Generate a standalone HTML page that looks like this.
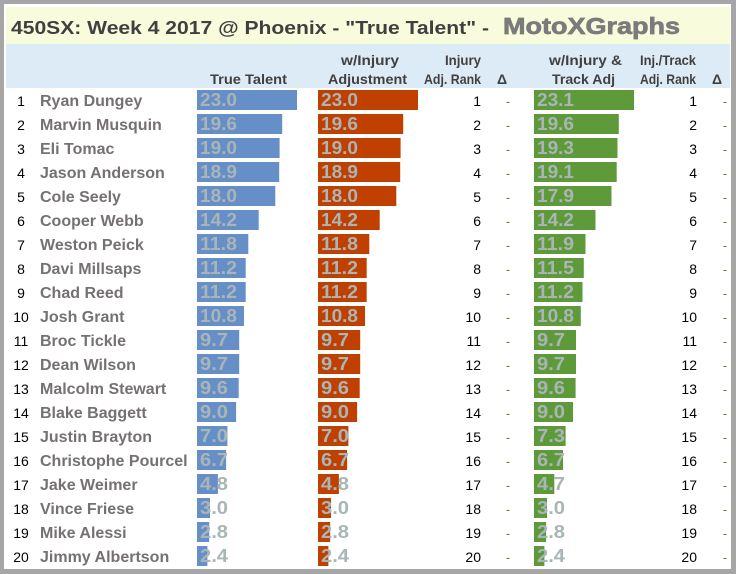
<!DOCTYPE html>
<html><head><meta charset="utf-8"><style>
html,body{margin:0;padding:0;background:#a6a6a6;}
svg{display:block;}
.t{font-family:"Liberation Sans",sans-serif;font-weight:bold;fill:#404040;font-size:18px;}
.mx{font-family:"Liberation Sans",sans-serif;font-weight:bold;fill:#7b7b7b;stroke:#7b7b7b;stroke-width:0.7;font-size:23px;}
.h{font-family:"Liberation Sans",sans-serif;font-weight:bold;fill:#404040;font-size:14px;}
.r{font-family:"Liberation Sans",sans-serif;fill:#000;font-size:14px;text-anchor:middle;}
.rr{font-family:"Liberation Sans",sans-serif;fill:#000;font-size:14px;text-anchor:end;}
.d{font-family:"Liberation Sans",sans-serif;fill:#4f8a2e;font-size:13px;text-anchor:middle;}
.n{font-family:"Liberation Sans",sans-serif;font-weight:bold;fill:#767171;font-size:16px;}
.v{font-family:"Liberation Sans",sans-serif;font-weight:bold;fill:#a9b5b7;font-size:18px;}
.b{fill:#668fc8;} .o{fill:#c04000;} .g{fill:#5f9a3a;}
</style></head><body>
<svg width="736" height="574" viewBox="0 0 736 574" xmlns="http://www.w3.org/2000/svg">
<rect x="0" y="0" width="736" height="574" fill="#a6a6a6"/>
<rect x="4" y="4" width="727" height="565" fill="#ffffff"/>
<rect x="6" y="7" width="724" height="37" fill="#f8fcdc"/>
<rect x="6" y="44" width="724" height="44" fill="#ddebf7"/>

<text class="t" x="11" y="34" textLength="478" lengthAdjust="spacingAndGlyphs">450SX: Week 4 2017 @ Phoenix - "True Talent" -</text>
<text class="mx" x="503" y="34" textLength="177" lengthAdjust="spacingAndGlyphs">MotoXGraphs</text>

<text class="h" x="210" y="84" textLength="77" lengthAdjust="spacingAndGlyphs">True Talent</text>
<text class="h" x="341" y="65" textLength="58" lengthAdjust="spacingAndGlyphs">w/Injury</text>
<text class="h" x="328" y="84" textLength="79" lengthAdjust="spacingAndGlyphs">Adjustment</text>
<text class="h" x="445" y="65" textLength="36" lengthAdjust="spacingAndGlyphs">Injury</text>
<text class="h" x="424" y="84" textLength="57" lengthAdjust="spacingAndGlyphs">Adj. Rank</text>
<text class="h" x="497" y="84">Δ</text>
<text class="h" x="549" y="65" textLength="73" lengthAdjust="spacingAndGlyphs">w/Injury &amp;</text>
<text class="h" x="552" y="84" textLength="63" lengthAdjust="spacingAndGlyphs">Track Adj</text>
<text class="h" x="640" y="65" textLength="56" lengthAdjust="spacingAndGlyphs">Inj./Track</text>
<text class="h" x="640" y="84" textLength="56" lengthAdjust="spacingAndGlyphs">Adj. Rank</text>
<text class="h" x="712" y="84">Δ</text>

<!-- bars -->
<rect class="b" x="197" y="90" width="100" height="20"/><rect class="o" x="318" y="90" width="100" height="20"/><rect class="g" x="534" y="90" width="100" height="20"/>
<rect class="b" x="197" y="114" width="85.2" height="20"/><rect class="o" x="318" y="114" width="85.2" height="20"/><rect class="g" x="534" y="114" width="84.8" height="20"/>
<rect class="b" x="197" y="138" width="82.6" height="20"/><rect class="o" x="318" y="138" width="82.6" height="20"/><rect class="g" x="534" y="138" width="83.5" height="20"/>
<rect class="b" x="197" y="162" width="82.2" height="20"/><rect class="o" x="318" y="162" width="82.2" height="20"/><rect class="g" x="534" y="162" width="82.7" height="20"/>
<rect class="b" x="197" y="186" width="78.3" height="20"/><rect class="o" x="318" y="186" width="78.3" height="20"/><rect class="g" x="534" y="186" width="77.5" height="20"/>
<rect class="b" x="197" y="210" width="61.7" height="20"/><rect class="o" x="318" y="210" width="61.7" height="20"/><rect class="g" x="534" y="210" width="61.5" height="20"/>
<rect class="b" x="197" y="234" width="51.3" height="20"/><rect class="o" x="318" y="234" width="51.3" height="20"/><rect class="g" x="534" y="234" width="51.5" height="20"/>
<rect class="b" x="197" y="258" width="48.7" height="20"/><rect class="o" x="318" y="258" width="48.7" height="20"/><rect class="g" x="534" y="258" width="49.8" height="20"/>
<rect class="b" x="197" y="282" width="48.7" height="20"/><rect class="o" x="318" y="282" width="48.7" height="20"/><rect class="g" x="534" y="282" width="48.5" height="20"/>
<rect class="b" x="197" y="306" width="47.0" height="20"/><rect class="o" x="318" y="306" width="47.0" height="20"/><rect class="g" x="534" y="306" width="46.8" height="20"/>
<rect class="b" x="197" y="330" width="42.2" height="20"/><rect class="o" x="318" y="330" width="42.2" height="20"/><rect class="g" x="534" y="330" width="42.0" height="20"/>
<rect class="b" x="197" y="354" width="42.2" height="20"/><rect class="o" x="318" y="354" width="42.2" height="20"/><rect class="g" x="534" y="354" width="42.0" height="20"/>
<rect class="b" x="197" y="378" width="41.7" height="20"/><rect class="o" x="318" y="378" width="41.7" height="20"/><rect class="g" x="534" y="378" width="41.6" height="20"/>
<rect class="b" x="197" y="402" width="39.1" height="20"/><rect class="o" x="318" y="402" width="39.1" height="20"/><rect class="g" x="534" y="402" width="39.0" height="20"/>
<rect class="b" x="197" y="426" width="30.4" height="20"/><rect class="o" x="318" y="426" width="30.4" height="20"/><rect class="g" x="534" y="426" width="31.6" height="20"/>
<rect class="b" x="197" y="450" width="29.1" height="20"/><rect class="o" x="318" y="450" width="29.1" height="20"/><rect class="g" x="534" y="450" width="29.0" height="20"/>
<rect class="b" x="197" y="474" width="20.9" height="20"/><rect class="o" x="318" y="474" width="20.9" height="20"/><rect class="g" x="534" y="474" width="20.3" height="20"/>
<rect class="b" x="197" y="498" width="13.0" height="20"/><rect class="o" x="318" y="498" width="13.0" height="20"/><rect class="g" x="534" y="498" width="13.0" height="20"/>
<rect class="b" x="197" y="522" width="12.2" height="20"/><rect class="o" x="318" y="522" width="12.2" height="20"/><rect class="g" x="534" y="522" width="12.1" height="20"/>
<rect class="b" x="197" y="546" width="10.4" height="20"/><rect class="o" x="318" y="546" width="10.4" height="20"/><rect class="g" x="534" y="546" width="10.4" height="20"/>

<!-- rows -->
<g>
<text class="r" x="21" y="106">1</text><text class="n" x="40" y="106">Ryan Dungey</text>
<text class="v" x="200" y="106" textLength="37" lengthAdjust="spacingAndGlyphs">23.0</text><text class="v" x="321" y="106" textLength="37" lengthAdjust="spacingAndGlyphs">23.0</text>
<text class="rr" x="481" y="106">1</text><text class="d" x="508" y="106">-</text>
<text class="v" x="537" y="106" textLength="37" lengthAdjust="spacingAndGlyphs">23.1</text>
<text class="rr" x="697" y="106">1</text><text class="d" x="725" y="106">-</text>

<text class="r" x="21" y="130">2</text><text class="n" x="40" y="130">Marvin Musquin</text>
<text class="v" x="200" y="130" textLength="37" lengthAdjust="spacingAndGlyphs">19.6</text><text class="v" x="321" y="130" textLength="37" lengthAdjust="spacingAndGlyphs">19.6</text>
<text class="rr" x="481" y="130">2</text><text class="d" x="508" y="130">-</text>
<text class="v" x="537" y="130" textLength="37" lengthAdjust="spacingAndGlyphs">19.6</text>
<text class="rr" x="697" y="130">2</text><text class="d" x="725" y="130">-</text>

<text class="r" x="21" y="154">3</text><text class="n" x="40" y="154">Eli Tomac</text>
<text class="v" x="200" y="154" textLength="37" lengthAdjust="spacingAndGlyphs">19.0</text><text class="v" x="321" y="154" textLength="37" lengthAdjust="spacingAndGlyphs">19.0</text>
<text class="rr" x="481" y="154">3</text><text class="d" x="508" y="154">-</text>
<text class="v" x="537" y="154" textLength="37" lengthAdjust="spacingAndGlyphs">19.3</text>
<text class="rr" x="697" y="154">3</text><text class="d" x="725" y="154">-</text>

<text class="r" x="21" y="178">4</text><text class="n" x="40" y="178">Jason Anderson</text>
<text class="v" x="200" y="178" textLength="37" lengthAdjust="spacingAndGlyphs">18.9</text><text class="v" x="321" y="178" textLength="37" lengthAdjust="spacingAndGlyphs">18.9</text>
<text class="rr" x="481" y="178">4</text><text class="d" x="508" y="178">-</text>
<text class="v" x="537" y="178" textLength="37" lengthAdjust="spacingAndGlyphs">19.1</text>
<text class="rr" x="697" y="178">4</text><text class="d" x="725" y="178">-</text>

<text class="r" x="21" y="202">5</text><text class="n" x="40" y="202">Cole Seely</text>
<text class="v" x="200" y="202" textLength="37" lengthAdjust="spacingAndGlyphs">18.0</text><text class="v" x="321" y="202" textLength="37" lengthAdjust="spacingAndGlyphs">18.0</text>
<text class="rr" x="481" y="202">5</text><text class="d" x="508" y="202">-</text>
<text class="v" x="537" y="202" textLength="37" lengthAdjust="spacingAndGlyphs">17.9</text>
<text class="rr" x="697" y="202">5</text><text class="d" x="725" y="202">-</text>

<text class="r" x="21" y="226">6</text><text class="n" x="40" y="226">Cooper Webb</text>
<text class="v" x="200" y="226" textLength="37" lengthAdjust="spacingAndGlyphs">14.2</text><text class="v" x="321" y="226" textLength="37" lengthAdjust="spacingAndGlyphs">14.2</text>
<text class="rr" x="481" y="226">6</text><text class="d" x="508" y="226">-</text>
<text class="v" x="537" y="226" textLength="37" lengthAdjust="spacingAndGlyphs">14.2</text>
<text class="rr" x="697" y="226">6</text><text class="d" x="725" y="226">-</text>

<text class="r" x="21" y="250">7</text><text class="n" x="40" y="250">Weston Peick</text>
<text class="v" x="200" y="250" textLength="37" lengthAdjust="spacingAndGlyphs">11.8</text><text class="v" x="321" y="250" textLength="37" lengthAdjust="spacingAndGlyphs">11.8</text>
<text class="rr" x="481" y="250">7</text><text class="d" x="508" y="250">-</text>
<text class="v" x="537" y="250" textLength="37" lengthAdjust="spacingAndGlyphs">11.9</text>
<text class="rr" x="697" y="250">7</text><text class="d" x="725" y="250">-</text>

<text class="r" x="21" y="274">8</text><text class="n" x="40" y="274">Davi Millsaps</text>
<text class="v" x="200" y="274" textLength="37" lengthAdjust="spacingAndGlyphs">11.2</text><text class="v" x="321" y="274" textLength="37" lengthAdjust="spacingAndGlyphs">11.2</text>
<text class="rr" x="481" y="274">8</text><text class="d" x="508" y="274">-</text>
<text class="v" x="537" y="274" textLength="37" lengthAdjust="spacingAndGlyphs">11.5</text>
<text class="rr" x="697" y="274">8</text><text class="d" x="725" y="274">-</text>

<text class="r" x="21" y="298">9</text><text class="n" x="40" y="298">Chad Reed</text>
<text class="v" x="200" y="298" textLength="37" lengthAdjust="spacingAndGlyphs">11.2</text><text class="v" x="321" y="298" textLength="37" lengthAdjust="spacingAndGlyphs">11.2</text>
<text class="rr" x="481" y="298">9</text><text class="d" x="508" y="298">-</text>
<text class="v" x="537" y="298" textLength="37" lengthAdjust="spacingAndGlyphs">11.2</text>
<text class="rr" x="697" y="298">9</text><text class="d" x="725" y="298">-</text>

<text class="r" x="21" y="322">10</text><text class="n" x="40" y="322">Josh Grant</text>
<text class="v" x="200" y="322" textLength="37" lengthAdjust="spacingAndGlyphs">10.8</text><text class="v" x="321" y="322" textLength="37" lengthAdjust="spacingAndGlyphs">10.8</text>
<text class="rr" x="481" y="322">10</text><text class="d" x="508" y="322">-</text>
<text class="v" x="537" y="322" textLength="37" lengthAdjust="spacingAndGlyphs">10.8</text>
<text class="rr" x="697" y="322">10</text><text class="d" x="725" y="322">-</text>

<text class="r" x="21" y="346">11</text><text class="n" x="40" y="346">Broc Tickle</text>
<text class="v" x="200" y="346" textLength="28" lengthAdjust="spacingAndGlyphs">9.7</text><text class="v" x="321" y="346" textLength="28" lengthAdjust="spacingAndGlyphs">9.7</text>
<text class="rr" x="481" y="346">11</text><text class="d" x="508" y="346">-</text>
<text class="v" x="537" y="346" textLength="28" lengthAdjust="spacingAndGlyphs">9.7</text>
<text class="rr" x="697" y="346">11</text><text class="d" x="725" y="346">-</text>

<text class="r" x="21" y="370">12</text><text class="n" x="40" y="370">Dean Wilson</text>
<text class="v" x="200" y="370" textLength="28" lengthAdjust="spacingAndGlyphs">9.7</text><text class="v" x="321" y="370" textLength="28" lengthAdjust="spacingAndGlyphs">9.7</text>
<text class="rr" x="481" y="370">12</text><text class="d" x="508" y="370">-</text>
<text class="v" x="537" y="370" textLength="28" lengthAdjust="spacingAndGlyphs">9.7</text>
<text class="rr" x="697" y="370">12</text><text class="d" x="725" y="370">-</text>

<text class="r" x="21" y="394">13</text><text class="n" x="40" y="394">Malcolm Stewart</text>
<text class="v" x="200" y="394" textLength="28" lengthAdjust="spacingAndGlyphs">9.6</text><text class="v" x="321" y="394" textLength="28" lengthAdjust="spacingAndGlyphs">9.6</text>
<text class="rr" x="481" y="394">13</text><text class="d" x="508" y="394">-</text>
<text class="v" x="537" y="394" textLength="28" lengthAdjust="spacingAndGlyphs">9.6</text>
<text class="rr" x="697" y="394">13</text><text class="d" x="725" y="394">-</text>

<text class="r" x="21" y="418">14</text><text class="n" x="40" y="418">Blake Baggett</text>
<text class="v" x="200" y="418" textLength="28" lengthAdjust="spacingAndGlyphs">9.0</text><text class="v" x="321" y="418" textLength="28" lengthAdjust="spacingAndGlyphs">9.0</text>
<text class="rr" x="481" y="418">14</text><text class="d" x="508" y="418">-</text>
<text class="v" x="537" y="418" textLength="28" lengthAdjust="spacingAndGlyphs">9.0</text>
<text class="rr" x="697" y="418">14</text><text class="d" x="725" y="418">-</text>

<text class="r" x="21" y="442">15</text><text class="n" x="40" y="442">Justin Brayton</text>
<text class="v" x="200" y="442" textLength="28" lengthAdjust="spacingAndGlyphs">7.0</text><text class="v" x="321" y="442" textLength="28" lengthAdjust="spacingAndGlyphs">7.0</text>
<text class="rr" x="481" y="442">15</text><text class="d" x="508" y="442">-</text>
<text class="v" x="537" y="442" textLength="28" lengthAdjust="spacingAndGlyphs">7.3</text>
<text class="rr" x="697" y="442">15</text><text class="d" x="725" y="442">-</text>

<text class="r" x="21" y="466">16</text><text class="n" x="40" y="466">Christophe Pourcel</text>
<text class="v" x="200" y="466" textLength="28" lengthAdjust="spacingAndGlyphs">6.7</text><text class="v" x="321" y="466" textLength="28" lengthAdjust="spacingAndGlyphs">6.7</text>
<text class="rr" x="481" y="466">16</text><text class="d" x="508" y="466">-</text>
<text class="v" x="537" y="466" textLength="28" lengthAdjust="spacingAndGlyphs">6.7</text>
<text class="rr" x="697" y="466">16</text><text class="d" x="725" y="466">-</text>

<text class="r" x="21" y="490">17</text><text class="n" x="40" y="490">Jake Weimer</text>
<text class="v" x="200" y="490" textLength="28" lengthAdjust="spacingAndGlyphs">4.8</text><text class="v" x="321" y="490" textLength="28" lengthAdjust="spacingAndGlyphs">4.8</text>
<text class="rr" x="481" y="490">17</text><text class="d" x="508" y="490">-</text>
<text class="v" x="537" y="490" textLength="28" lengthAdjust="spacingAndGlyphs">4.7</text>
<text class="rr" x="697" y="490">17</text><text class="d" x="725" y="490">-</text>

<text class="r" x="21" y="514">18</text><text class="n" x="40" y="514">Vince Friese</text>
<text class="v" x="200" y="514" textLength="28" lengthAdjust="spacingAndGlyphs">3.0</text><text class="v" x="321" y="514" textLength="28" lengthAdjust="spacingAndGlyphs">3.0</text>
<text class="rr" x="481" y="514">18</text><text class="d" x="508" y="514">-</text>
<text class="v" x="537" y="514" textLength="28" lengthAdjust="spacingAndGlyphs">3.0</text>
<text class="rr" x="697" y="514">18</text><text class="d" x="725" y="514">-</text>

<text class="r" x="21" y="538">19</text><text class="n" x="40" y="538">Mike Alessi</text>
<text class="v" x="200" y="538" textLength="28" lengthAdjust="spacingAndGlyphs">2.8</text><text class="v" x="321" y="538" textLength="28" lengthAdjust="spacingAndGlyphs">2.8</text>
<text class="rr" x="481" y="538">19</text><text class="d" x="508" y="538">-</text>
<text class="v" x="537" y="538" textLength="28" lengthAdjust="spacingAndGlyphs">2.8</text>
<text class="rr" x="697" y="538">19</text><text class="d" x="725" y="538">-</text>

<text class="r" x="21" y="562">20</text><text class="n" x="40" y="562">Jimmy Albertson</text>
<text class="v" x="200" y="562" textLength="28" lengthAdjust="spacingAndGlyphs">2.4</text><text class="v" x="321" y="562" textLength="28" lengthAdjust="spacingAndGlyphs">2.4</text>
<text class="rr" x="481" y="562">20</text><text class="d" x="508" y="562">-</text>
<text class="v" x="537" y="562" textLength="28" lengthAdjust="spacingAndGlyphs">2.4</text>
<text class="rr" x="697" y="562">20</text><text class="d" x="725" y="562">-</text>
</g>
</svg>
</body></html>
